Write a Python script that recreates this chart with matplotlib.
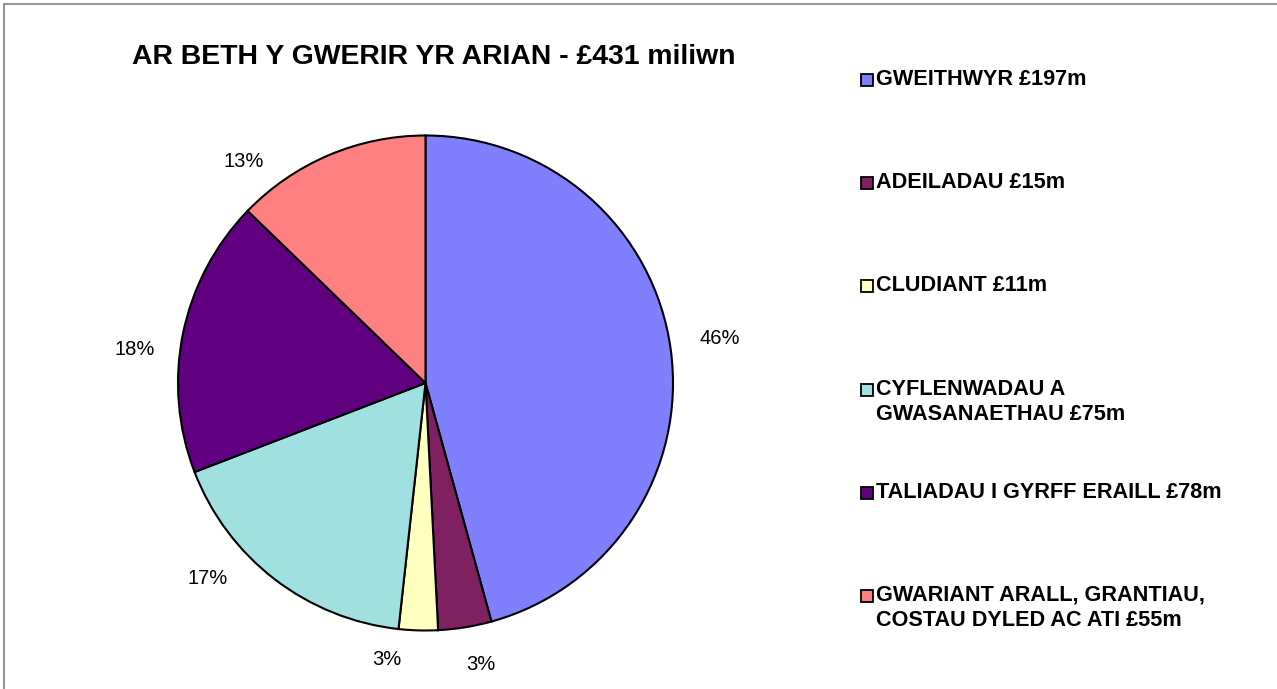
import matplotlib.pyplot as plt
from matplotlib.patches import Rectangle

plt.rcParams['font.family'] = ['Liberation Sans', 'DejaVu Sans']

title = "AR BETH Y GWERIR YR ARIAN - £431 miliwn"
labels = [
    "GWEITHWYR £197m",
    "ADEILADAU £15m",
    "CLUDIANT £11m",
    "CYFLENWADAU A\nGWASANAETHAU £75m",
    "TALIADAU I GYRFF ERAILL £78m",
    "GWARIANT ARALL, GRANTIAU,\nCOSTAU DYLED AC ATI £55m",
]
values = [197, 15, 11, 75, 78, 55]
colors = ["#8080ff", "#7f2060", "#ffffc0", "#a0e0e0", "#600080", "#ff8080"]

W, H = 1277, 689
fig = plt.figure(figsize=(W / 100, H / 100), dpi=100)

# grey frame round the chart area
fig.patches.append(Rectangle((4 / W, -0.05), 1.2, (H - 4) / H + 0.05,
                             transform=fig.transFigure, fill=False,
                             edgecolor="#808080", linewidth=1.2))

# pie axes, centre (425.5, 383) px, radius ~247 px
R = 247.5
cx, cy = 425.5, 383
ax = fig.add_axes([(cx - R) / W, (H - cy - R) / H, 2 * R / W, 2 * R / H])
wedges, texts, autotexts = ax.pie(
    values, colors=colors, startangle=90, counterclock=False,
    autopct="%.0f%%", pctdistance=1.19, radius=1,
    wedgeprops=dict(edgecolor="black", linewidth=1.5),
    textprops=dict(fontsize=14.5))

# Excel's "best fit" label spots (in radius units)
label_spots = [(1.190, 0.180), (0.225, -1.138), (-0.158, -1.119),
               (-0.879, -0.788), (-1.176, 0.137), (-0.733, 0.895)]
for t, (lx, ly) in zip(autotexts, label_spots):
    t.set_position((lx, ly))
    t.set_ha("center")
    t.set_va("center")

ax.set_xlim(-1, 1)
ax.set_ylim(-1, 1)
ax.set_aspect("equal")
ax.axis("off")

fig.text(434 / W, (H - 57) / H, title, ha="center", va="center",
         fontsize=20.4, fontweight="bold")

# legend drawn by hand so the squares line up with the first text line
for i, (lab, col) in enumerate(zip(labels, colors)):
    y = 80 + 103.2 * i
    fig.patches.append(Rectangle((861 / W, (H - y - 6) / H), 12 / W, 12 / H,
                                 transform=fig.transFigure, facecolor=col,
                                 edgecolor="black", linewidth=1.3))
    fig.text(876 / W, (H - y + 11) / H, lab, ha="left", va="top",
             fontsize=15.6, fontweight="bold", linespacing=1.28)

fig.savefig("out.png", dpi=100)
